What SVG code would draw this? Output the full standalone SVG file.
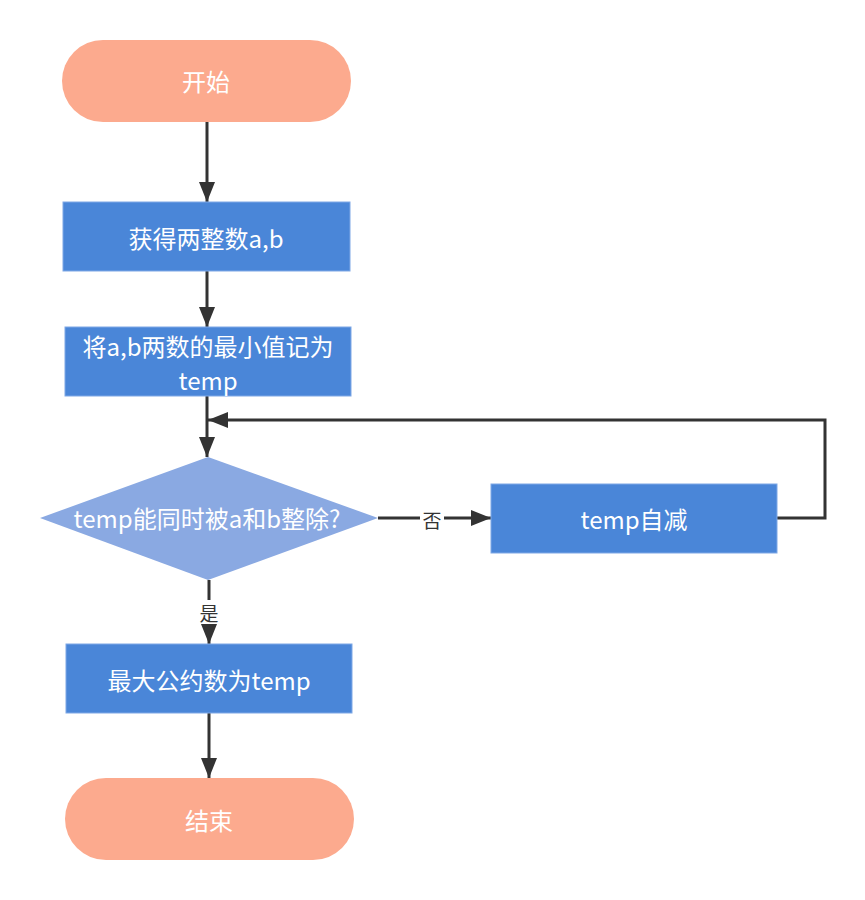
<svg xmlns="http://www.w3.org/2000/svg" width="865" height="900" viewBox="0 0 865 900">
<style>
.term{fill:#FCAA8E;}
.proc{fill:#4A86D8;stroke:#7FA8E6;stroke-width:1;}
.dec{fill:#8AA9E2;}
.t{font-family:"Noto Sans CJK SC","Noto Sans",sans-serif;font-size:24px;fill:#fff;text-anchor:middle;dominant-baseline:central;}
.lbl{font-family:"Noto Sans CJK SC","Noto Sans",sans-serif;font-size:19px;fill:#333;text-anchor:middle;dominant-baseline:central;}
.c{fill:none;stroke:#333;stroke-width:3;}
</style>
<defs>
<marker id="ah" viewBox="0 0 20 16" refX="20" refY="8" markerWidth="20" markerHeight="16" markerUnits="userSpaceOnUse" orient="auto">
<path d="M0,0 L20,8 L0,16 Z" fill="#333"/>
</marker>
</defs>
<rect width="865" height="900" fill="#fff"/>
<g id="connectors">
<path class="c" d="M207,122 V202" marker-end="url(#ah)"/>
<path class="c" d="M207,271 V327" marker-end="url(#ah)"/>
<path class="c" d="M207,396 V457" marker-end="url(#ah)"/>
<path class="c" d="M378,518 H491" marker-end="url(#ah)"/>
<path class="c" d="M777,518 H825 V420 H208" marker-end="url(#ah)"/>
<path class="c" d="M209,580 V644" marker-end="url(#ah)"/>
<path class="c" d="M209,713 V778" marker-end="url(#ah)"/>
<rect x="420" y="506" width="24" height="24" fill="#fff"/>
<text class="lbl" x="432" y="519">否</text>
<rect x="197" y="600" width="24" height="24" fill="#fff"/>
<text class="lbl" x="209" y="612">是</text>
</g>
<g id="start">
<rect class="term" x="62" y="40" width="289" height="82" rx="41"/>
<text class="t" x="206" y="80">开始</text>
</g>
<g id="get">
<rect class="proc" x="63" y="202" width="287" height="69"/>
<text class="t" x="206" y="237">获得两整数a,b</text>
</g>
<g id="min">
<rect class="proc" x="65" y="327" width="286" height="69"/>
<text class="t" x="208" y="345">将a,b两数的最小值记为</text>
<text class="t" x="208" y="379">temp</text>
</g>
<g id="decision">
<polygon class="dec" points="208,457 378,518 208,580 40,518"/>
<text class="t" x="207" y="517">temp能同时被a和b整除?</text>
</g>
<g id="dec">
<rect class="proc" x="491" y="484" width="286" height="69"/>
<text class="t" x="634" y="518">temp自减</text>
</g>
<g id="result">
<rect class="proc" x="66" y="644" width="286" height="69"/>
<text class="t" x="209" y="679">最大公约数为temp</text>
</g>
<g id="end">
<rect class="term" x="65" y="778" width="289" height="82" rx="41"/>
<text class="t" x="209" y="819">结束</text>
</g>
</svg>
